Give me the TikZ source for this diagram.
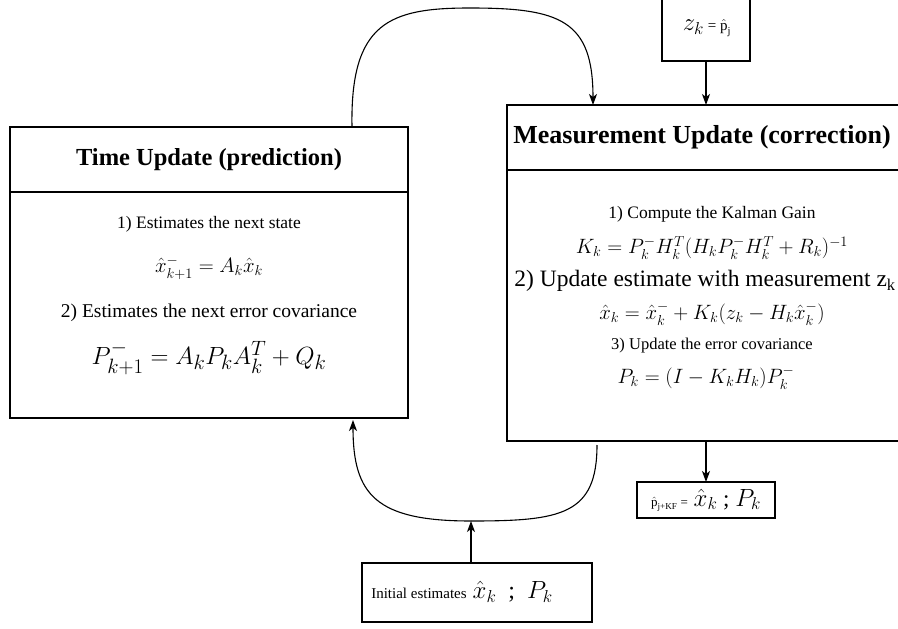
\documentclass[tikz,border=0pt]{standalone}
\usepackage[no-math]{fontspec}
\setmainfont{Liberation Serif}
\usepackage{amsmath}
\usetikzlibrary{arrows.meta,calc}

\newcommand{\fs}[1]{\fontsize{#1}{#1}\selectfont}

\tikzset{
  x=1pt, y=-1pt,
  bigbox/.style={draw, line width=1.6pt, inner sep=0pt, outer sep=0pt, anchor=north west},
  smallbox/.style={draw, line width=1.3pt, inner sep=0pt, outer sep=0pt, anchor=north west},
  txt/.style={inner sep=0pt},
  flow/.style={line width=1.1pt, -{Stealth[length=11pt, width=8pt, inset=3pt]}},
}

\begin{document}
\begin{tikzpicture}
\useasboundingbox (0,0) rectangle (898,629);

% --- Time update box
\node[bigbox, minimum width=398pt, minimum height=291pt] (tu) at (10,127) {};
\draw[line width=1.6pt] ($(tu.north west)+(0,65)$) -- ($(tu.north east)+(0,65)$);
\node[txt, font=\fs{24.5}\bfseries] (tut) at (209,160) {Time Update (prediction)};
\node[txt, font=\fs{17.5}] (tu1) at (209,224) {1) Estimates the next state};
\node[txt, font=\fs{19.5}] (tu2) at (209,268) {$\hat{x}^-_{k+1} = A_k\hat{x}_k$};
\node[txt, font=\fs{19.5}] (tu3) at (209,313) {2) Estimates the next error covariance};
\node[txt, font=\fs{29}] (tu4) at (209,358) {$P^-_{k+1} = A_kP_kA^T_k + Q_k$};

% --- Measurement update box (runs past the right edge)
\node[bigbox, minimum width=396pt, minimum height=336pt] (mu) at (507,105) {};
\draw[line width=1.6pt] ($(mu.north west)+(0,65)$) -- ($(mu.north east)+(0,65)$);
\node[txt, font=\fs{26}\bfseries] (mut) at (702,137) {Measurement Update (correction)};
\node[txt, font=\fs{17.5}] (mu1) at (712,214) {1) Compute the Kalman Gain};
\node[txt, font=\fs{22}] (mu2) at (712,248) {$K_k = P^-_kH^T_k(H_kP^-_kH^T_k + R_k)^{-1}$};
\node[txt, font=\fs{23.5}] (mu3) at (705,281) {2) Update estimate with measurement z\textsubscript{k}};
\node[txt, font=\fs{22.5}] (mu4) at (712,314) {$\hat{x}_k = \hat{x}^-_k + K_k(z_k - H_k\hat{x}^-_k)$};
\node[txt, font=\fs{16.5}] (mu5) at (712,346) {3) Update the error covariance};
\node[txt, font=\fs{22}] (mu6) at (706,378) {$P_k = (I - K_kH_k)P^-_k$};

% --- Measurement input
\node[smallbox, minimum width=88pt, minimum height=70pt] (zb) at (662,-9) {};
\node[txt, font=\fs{23}] (zt) at (707,28) {$z_k$\,{\fs{15}= $\hat{\text{p}}_{\text{j}}$}};

% --- Filter output
\node[smallbox, minimum width=138pt, minimum height=36pt] (ob) at (637,482) {};
\node[txt, font=\fs{23}] (ot) at (706,500) {{\fs{13}$\hat{\text{p}}_{\text{j+KF}}$ =} $\hat{x}_k$ ; $P_k$};

% --- Initial estimates
\node[smallbox, minimum width=230pt, minimum height=59pt] (ib) at (362,563) {};
\node[txt, font=\fs{24}] (it) at (462,592) {{\fs{15}Initial estimates} $\hat{x}_k$\enspace;\enspace$P_k$};

% --- Connectors
\coordinate (tuout) at ($(tu.north)+(143,0)$);
\coordinate (muin)  at ($(mu.north west)+(86,0)$);
\coordinate (muout) at ($(mu.south west)+(90,4)$);
\coordinate (tuin)  at ($(tu.south)+(144,2)$);
\coordinate (join)  at ($(ib.north)+(-6,-42)$);
\coordinate (peak)  at (470,8);

\draw[flow] (tuout) .. controls ($(tuout)+(-2,-105)$) and ($(peak)+(-80,0)$) .. (peak)
  .. controls ($(peak)+(90,0)$) and ($(muin)+(0,-85)$) .. (muin);
\draw[flow] (zb.south) -- (mu.north -| zb.south);
\draw[flow] (mu.south -| ob.north) -- (ob.north);
\draw[line width=1.1pt] (muout) .. controls ($(muout)+(0,70)$) and ($(join)+(90,0)$) .. (join);
\draw[flow] (join) .. controls ($(join)+(-95,0)$) and ($(tuin)+(0,75)$) .. (tuin);
\draw[flow] (ib.north -| join) -- (join);
\end{tikzpicture}
\end{document}
